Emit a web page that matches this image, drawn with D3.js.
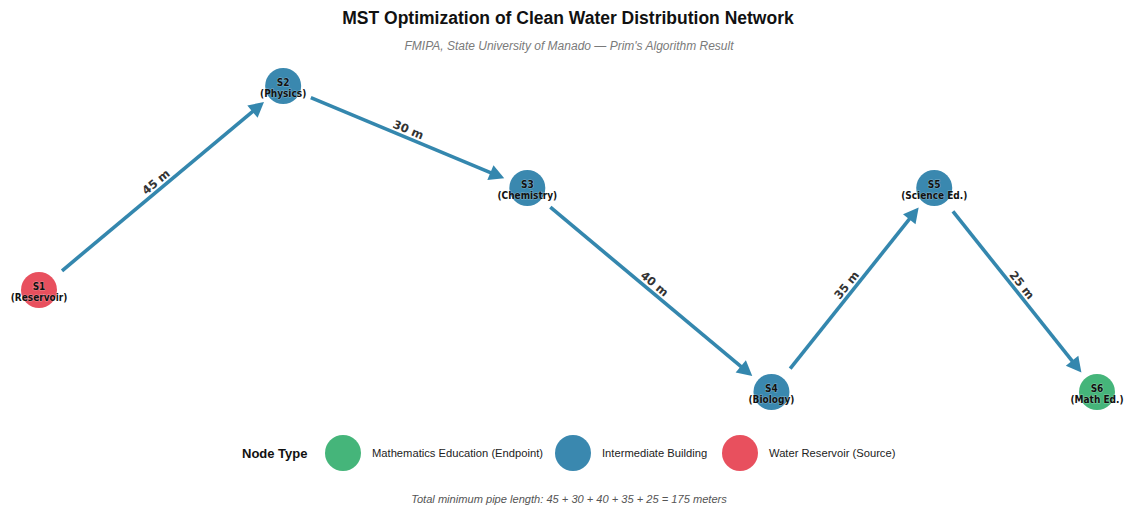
<!DOCTYPE html>
<html><head><meta charset="utf-8">
<script src="https://cdn.jsdelivr.net/npm/d3@7"></script>
<style>body{margin:0;background:#fff}svg{display:block}</style>
</head><body>
<svg id="c" width="1124" height="510"></svg>
<script>
const nodeIds = ["S1","S2","S3","S4","S5","S6"];
const nodeNames = ["(Reservoir)","(Physics)","(Chemistry)","(Biology)","(Science Ed.)","(Math Ed.)"];
const nodeX = [0,1.5,3,4.5,5.5,6.5];
const nodeY = [1,3,2,0,2,0];
const nodeType = ["source","mid","mid","mid","mid","end"];
const edgeFrom = ["S1","S2","S3","S4","S5"];
const edgeTo = ["S2","S3","S4","S5","S6"];
const edgeLen = [45,30,40,35,25];
const legendKeys = ["end","mid","source"];
const legendLabels = ["Mathematics Education (Endpoint)","Intermediate Building","Water Reservoir (Source)"];
const colors = {end:"#45B57A", mid:"#3A88AF", source:"#E8505E"};
const edgeColor = "#3487AE";

const svg = d3.select("#c");
const x = d3.scaleLinear().domain([0,6.5]).range([39,1097]);
const y = d3.scaleLinear().domain([0,3]).range([392,86]);
const nodes = nodeIds.map((id,i)=>({id,name:nodeNames[i],x:x(nodeX[i]),y:y(nodeY[i]),type:nodeType[i]}));
const byId = Object.fromEntries(nodes.map(n=>[n.id,n]));

svg.append("text").attr("x",568).attr("y",24).attr("text-anchor","middle")
  .style("font-family","Liberation Sans, Arial, sans-serif").style("font-weight","bold").style("font-size","17.5px").attr("fill","#111")
  .text("MST Optimization of Clean Water Distribution Network");
svg.append("text").attr("x",569).attr("y",50).attr("text-anchor","middle")
  .style("font-family","Liberation Sans, Arial, sans-serif").style("font-style","italic").style("font-size","12px").attr("fill","#7a7a7a")
  .text("FMIPA, State University of Manado \u2014 Prim's Algorithm Result");

// edges
const gE = svg.append("g");
edgeFrom.forEach((f,i)=>{
  const a = byId[f], b = byId[edgeTo[i]];
  const dx=b.x-a.x, dy=b.y-a.y, L=Math.hypot(dx,dy), ux=dx/L, uy=dy/L;
  const sx=a.x+ux*30, sy=a.y+uy*30, tx=b.x-ux*25, ty=b.y-uy*25;
  const ah=15, aw=8;
  const bx=tx-ux*ah, by=ty-uy*ah;
  gE.append("line").attr("x1",sx).attr("y1",sy).attr("x2",bx+ux*2).attr("y2",by+uy*2)
    .attr("stroke",edgeColor).attr("stroke-width",3.6).attr("stroke-linecap","butt");
  const px=-uy, py=ux;
  gE.append("path").attr("d",`M${tx},${ty}L${bx+px*aw},${by+py*aw}L${bx-px*aw},${by-py*aw}Z`).attr("fill",edgeColor);
  let ang = Math.atan2(dy,dx)*180/Math.PI;
  let nx=-uy, ny=ux; if(ny>0){nx=-nx;ny=-ny;}
  const mx=(a.x+b.x)/2+nx*8, my=(a.y+b.y)/2+ny*8;
  gE.append("text").attr("transform",`translate(${mx},${my}) rotate(${ang})`).attr("text-anchor","middle").attr("dy","0.35em")
    .style("font-family","DejaVu Sans, sans-serif").style("font-weight","bold").style("font-size","11.5px").attr("fill","#333")
    .text(edgeLen[i]+" m");
});

// nodes
const gN = svg.append("g");
nodes.forEach(n=>{
  gN.append("circle").attr("cx",n.x).attr("cy",n.y).attr("r",18).attr("fill",colors[n.type]);
  const t = gN.append("text").attr("x",n.x).attr("text-anchor","middle")
    .style("font-family","DejaVu Sans Condensed, DejaVu Sans, sans-serif").style("font-weight","bold").style("font-size","10px").attr("fill","#111")
    .attr("stroke","rgba(255,255,255,0.35)").attr("stroke-width",1).attr("paint-order","stroke");
  t.append("tspan").attr("x",n.x).attr("y",n.y-0.5).text(n.id);
  t.append("tspan").attr("x",n.x).attr("y",n.y+10.5).text(n.name);
});

// legend
const gL = svg.append("g");
gL.append("text").attr("x",242).attr("y",458).style("font-family","Liberation Sans, Arial, sans-serif").style("font-weight","bold").style("font-size","13px").attr("fill","#111").text("Node Type");
const lx=[343,573,740];
legendKeys.forEach((k,i)=>{
  gL.append("circle").attr("cx",lx[i]).attr("cy",453).attr("r",18).attr("fill",colors[k]);
  gL.append("text").attr("x",lx[i]+29).attr("y",457).style("font-family","Liberation Sans, Arial, sans-serif").style("font-size","11.2px").attr("fill","#222").text(legendLabels[i]);
});

svg.append("text").attr("x",569).attr("y",503).attr("text-anchor","middle")
  .style("font-family","Liberation Sans, Arial, sans-serif").style("font-style","italic").style("font-size","11.1px").attr("fill","#555")
  .text("Total minimum pipe length: " + edgeLen.join(" + ") + " = " + d3.sum(edgeLen) + " meters");
</script>
</body></html>
